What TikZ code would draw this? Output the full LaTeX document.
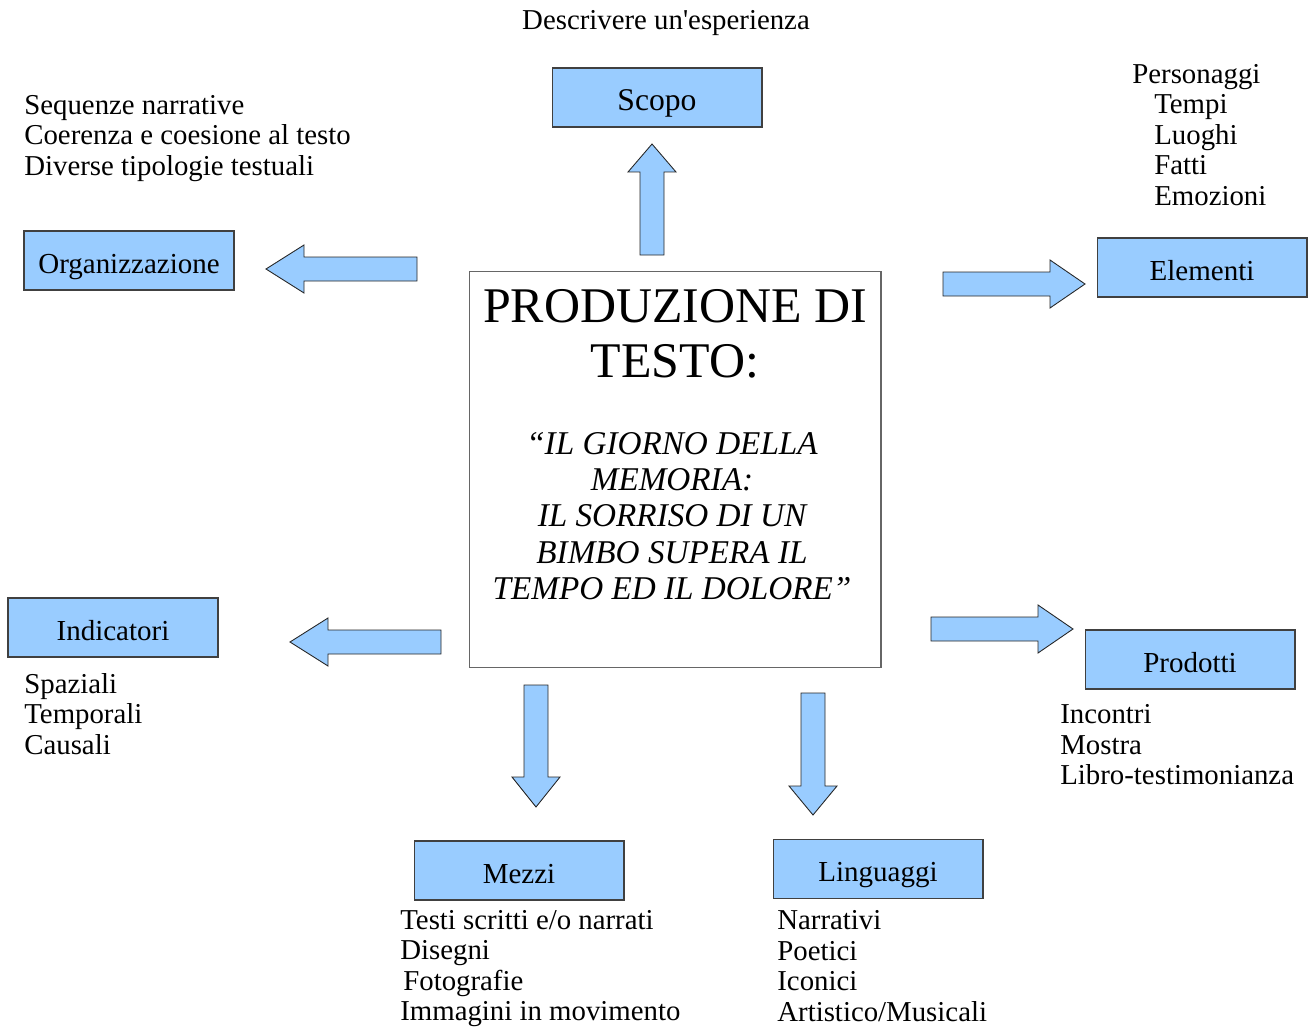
\documentclass[tikz,border=0pt]{standalone}
\usepackage{fontspec}
\setmainfont{Liberation Serif}
\definecolor{cielo}{RGB}{153,204,255}
\newcommand{\fatarrow}[4]{% coda, angolo, lunghezza, testa
  \draw[fat, shift={#1}, rotate=#2] (0,-12) -- (#3-#4,-12) -- (#3-#4,-24) -- (#3,0)
    -- (#3-#4,24) -- (#3-#4,12) -- (0,12) -- cycle;}
\begin{document}
\begin{tikzpicture}[
  x=0.02cm, y=-0.02cm,
  box/.style={draw=black!75, fill=cielo, line width=0.6pt, minimum width=4.2cm, minimum height=1.18cm,
    inner sep=0pt, text height=15.5pt, text depth=0.8pt, font=\fontsize{16.5}{18}\selectfont},
  mainbox/.style={draw=black!60, line width=0.6pt, minimum width=8.24cm, minimum height=7.94cm, inner sep=0pt},
  lista/.style={align=left, anchor=west, inner sep=0pt, font=\fontsize{16.4}{17.4}\selectfont},
  fat/.style={draw=black!85, fill=cielo, line width=0.5pt, line join=miter}
]
  \useasboundingbox (0,0) rectangle (1314,1027);
  % riquadro centrale
  \node[mainbox] (main) at (675,469.5) {};
  \node[align=center, inner sep=0pt, font=\fontsize{28.4}{31.3}\selectfont] (titolo) at (675,334) {PRODUZIONE DI\\TESTO:};
  \node[align=center, inner sep=0pt, font=\fontsize{18.9}{20.7}\selectfont\itshape] (tema) at (672,516)
    {“IL GIORNO DELLA\\MEMORIA:\\IL SORRISO DI UN\\BIMBO SUPERA IL\\TEMPO ED IL DOLORE”};
  % riquadri
  \node[box, font=\fontsize{18}{19}\selectfont] (scopo) at (657,97.5) {Scopo};
  \node[box] (org)    at (129,260.5) {Organizzazione};
  \node[box] (elem)   at (1202,267.5) {Elementi};
  \node[box] (ind)    at (113,627.5) {Indicatori};
  \node[box] (prod)   at (1190,659.5) {Prodotti};
  \node[box] (mezzi)  at (519,870.5) {Mezzi};
  \node[box] (ling)   at (878,869)   {Linguaggi};
  % testi
  \node[inner sep=0pt, font=\fontsize{16.4}{17.4}\selectfont] (descr) at (666,23.5) {Descrivere un\textquotesingle esperienza};
  \node[lista] (t-org)   at (24,138.5)  {Sequenze narrative\\Coerenza e coesione al testo\\Diverse tipologie testuali};
  \node[lista] (t-elem)  at (1132,135)  {Personaggi\\\hspace*{12.5pt}Tempi\\\hspace*{12.5pt}Luoghi\\\hspace*{12.5pt}Fatti\\\hspace*{12.5pt}Emozioni};
  \node[lista] (t-ind)   at (24,714)    {Spaziali\\Temporali\\Causali};
  \node[lista] (t-prod)  at (1060,745) {Incontri\\Mostra\\Libro-testimonianza};
  \node[lista] (t-mezzi) at (400,968.5) {Testi scritti e/o narrati\\Disegni\\\hspace*{1.7pt}Fotografie\\Immagini in movimento};
  \node[lista] (t-ling)  at (777,966) {Narrativi\\Poetici\\Iconici\\Artistico/Musicali};
  % frecce
  \fatarrow{(652,255)}{90}{111}{28}
  \fatarrow{(417,269)}{180}{151}{38}
  \fatarrow{(943,284)}{0}{142}{35}
  \fatarrow{(441,642)}{180}{151}{38}
  \fatarrow{(931,629)}{0}{142}{35}
  \fatarrow{(536,685)}{270}{122}{30}
  \fatarrow{(813,693)}{270}{122}{29}
\end{tikzpicture}
\end{document}
